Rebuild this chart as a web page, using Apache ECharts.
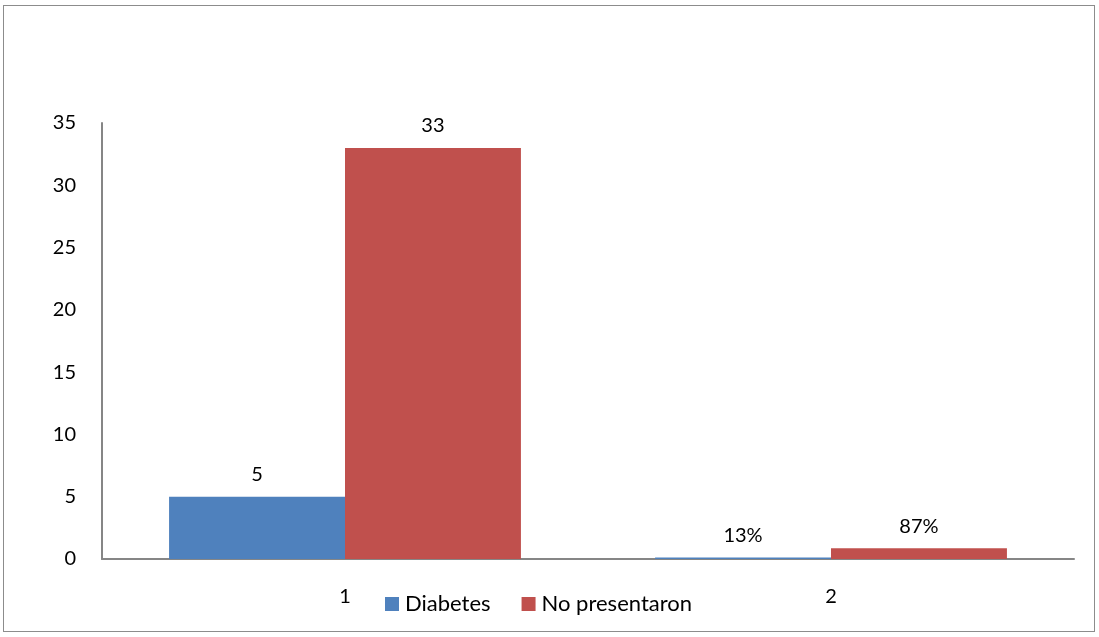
<!DOCTYPE html>
<html>
<head>
<meta charset="utf-8">
<script src="https://cdn.jsdelivr.net/npm/echarts@6/dist/echarts.min.js"></script>
<style>
  html, body { margin: 0; padding: 0; background: #fff; }
  #frame { position: absolute; left: 3px; top: 5px; width: 1092px; height: 627px; border: 1px solid #8c8c8c; box-sizing: border-box; }
  #chart { position: absolute; left: 0; top: 0; width: 1099px; height: 637px; }
</style>
</head>
<body>
<div id="frame"></div>
<div id="chart"></div>
<script>
// Categories and series values
const categories = ['1', '2'];
const diabetes = [5, 0.13];
const noPresentaron = [33, 0.87];
const yTicks = { min: 0, max: 35, interval: 5 };

// Second group holds proportions, shown as percentages
function labelText(p) {
  if (p.dataIndex === 1) return Math.round(p.value * 100) + '%';
  return String(p.value);
}

const font = 'Lato, "Open Sans", sans-serif';
const labelStyle = {
  show: true,
  position: 'top',
  distance: 12,
  color: '#000',
  fontSize: 20,
  fontFamily: font,
  formatter: labelText
};

const chart = echarts.init(document.getElementById('chart'), null, { renderer: 'canvas' });
chart.setOption({
  animation: false,
  backgroundColor: 'transparent',
  grid: { left: 102, right: 25, top: 123, bottom: 78, containLabel: false },
  legend: {
    data: ['Diabetes', 'No presentaron'],
    top: 588,
    left: 380,
    itemWidth: 14,
    itemHeight: 14,
    itemGap: 31,
    icon: 'rect',
    textStyle: { color: '#000', fontSize: 22, fontFamily: font, padding: [0, 0, 0, 1] }
  },
  xAxis: {
    type: 'category',
    data: categories,
    axisLine: { lineStyle: { color: '#868686', width: 2 } },
    axisTick: { show: false },
    axisLabel: { color: '#000', fontSize: 20, fontFamily: font, margin: 28 }
  },
  yAxis: {
    type: 'value',
    min: yTicks.min,
    max: yTicks.max,
    interval: yTicks.interval,
    splitLine: { show: false },
    axisLine: { show: true, lineStyle: { color: '#868686', width: 2 } },
    axisTick: { show: false },
    axisLabel: { color: '#000', fontSize: 20, fontFamily: font, margin: 26 }
  },
  series: [
    {
      name: 'Diabetes',
      type: 'bar',
      data: diabetes,
      barGap: '0%',
      barCategoryGap: '27.6%',
      itemStyle: { color: '#4f81bd' },
      label: labelStyle
    },
    {
      name: 'No presentaron',
      type: 'bar',
      data: noPresentaron,
      barGap: '0%',
      barCategoryGap: '27.6%',
      itemStyle: { color: '#c0504d' },
      label: labelStyle
    }
  ]
});
</script>
</body>
</html>
